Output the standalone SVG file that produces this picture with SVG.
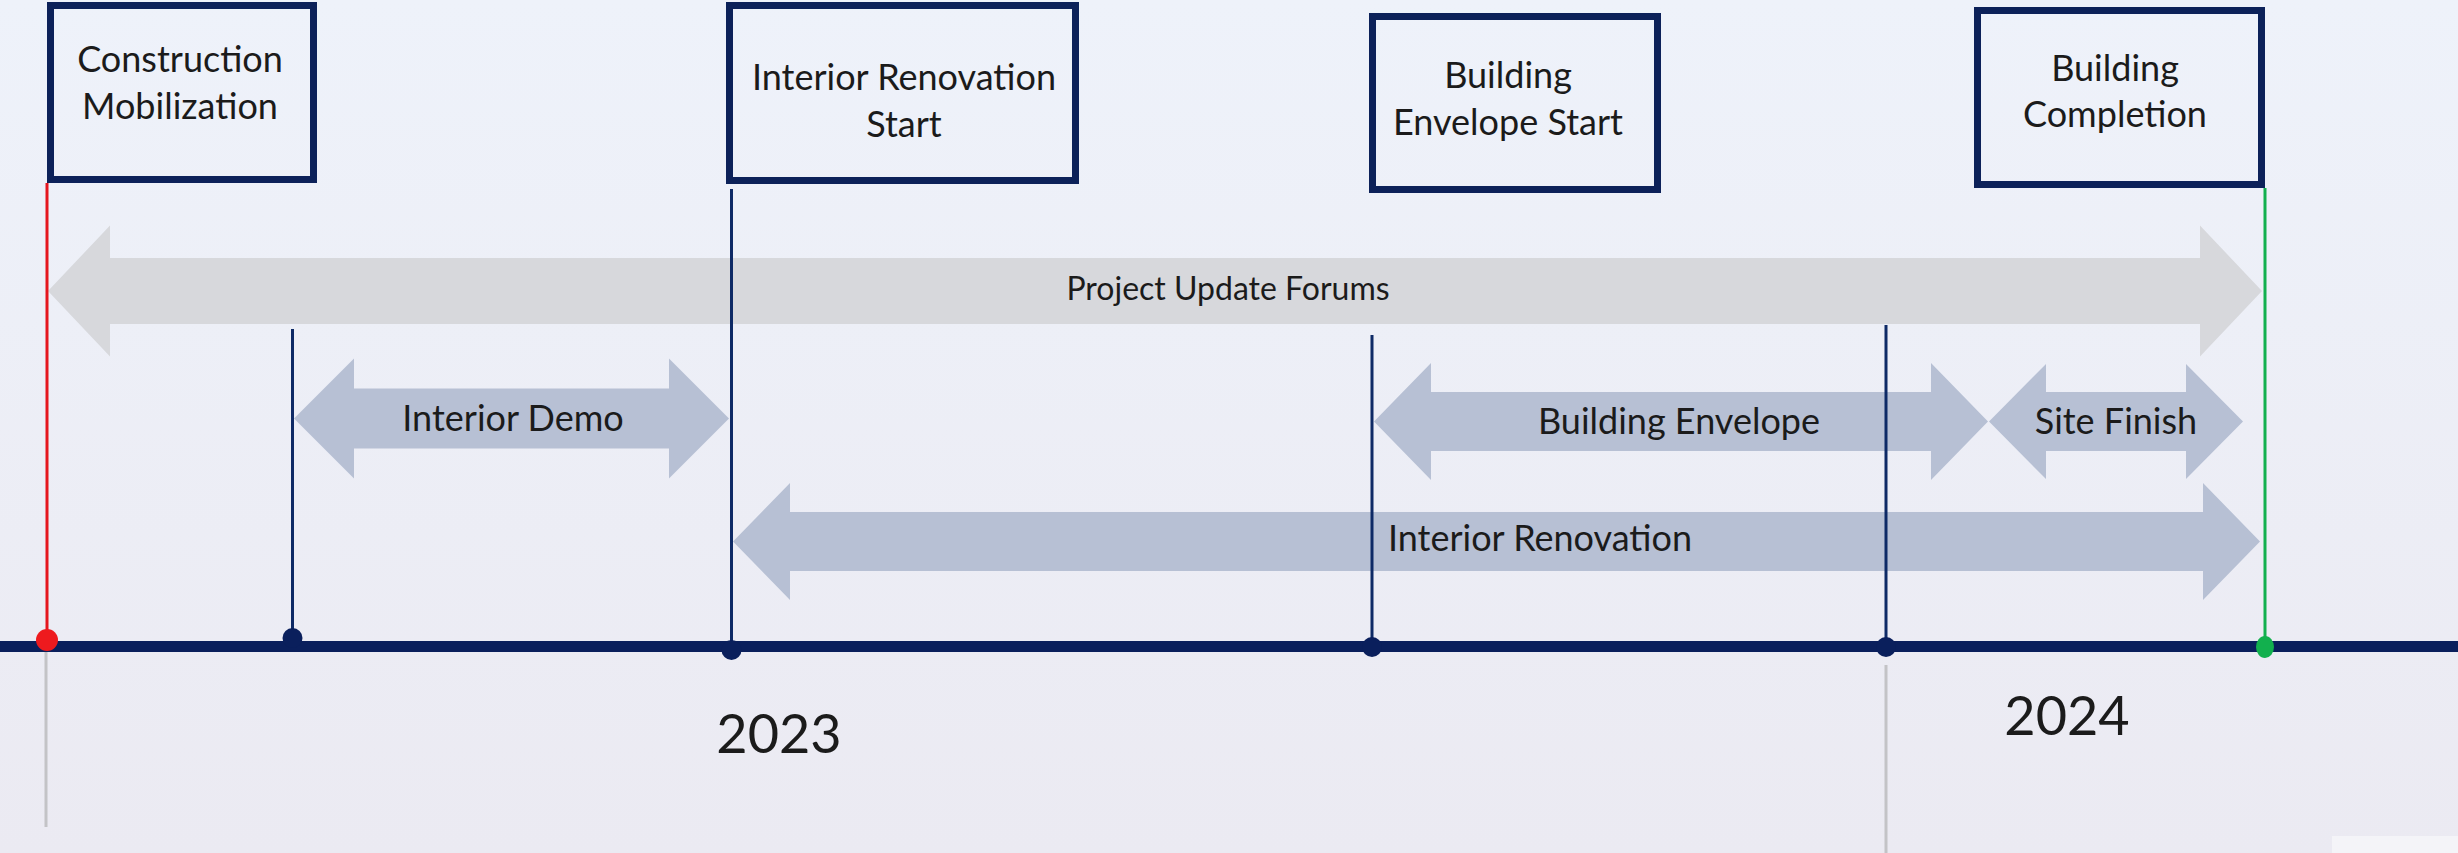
<svg xmlns="http://www.w3.org/2000/svg" width="2458" height="853" viewBox="0 0 2458 853">
<defs>
<linearGradient id="bg" x1="0" y1="0" x2="0" y2="1">
<stop offset="0" stop-color="#eef2fa"/>
<stop offset="1" stop-color="#ebeaf2"/>
</linearGradient>
</defs>
<style>
.box{fill:none;stroke:#0c2159;stroke-width:7}
.lbl{font-family:Lato,"Liberation Sans",sans-serif;fill:#1b1b1b;text-anchor:middle}
.bt{font-size:36px}
.at{font-size:36px}
.pt{font-size:32px}
.yr{font-size:54px}
.gray{fill:#d7d8dc}
.blue{fill:#b7c0d4}
.vl{stroke:#0e2a66;stroke-width:3;fill:none}
.gl{stroke:#c3c3c6;stroke-width:3;fill:none}
.dot{fill:#0a1f5c}
</style>
<rect x="0" y="0" width="2458" height="853" fill="url(#bg)"/>
<rect x="2332" y="836" width="126" height="17" fill="#f4f4f8"/>

<g id="phase-project-update-forums">
<path class="gray" d="M48,291 L110,225.5 L110,258 L2200,258 L2200,225.5 L2262,291 L2200,356.5 L2200,324 L110,324 L110,356.5 Z"/>
<text class="lbl pt" x="1228" y="300">Project Update Forums</text>
</g>
<g id="phase-interior-demo">
<path class="blue" d="M294,418.5 L354,358.5 L354,388.5 L669,388.5 L669,358.5 L729,418.5 L669,478.5 L669,448.5 L354,448.5 L354,478.5 Z"/>
<text class="lbl at" x="513" y="431">Interior Demo</text>
</g>
<g id="phase-building-envelope">
<path class="blue" d="M1374,421.5 L1431,363 L1431,392 L1931,392 L1931,363 L1988,421.5 L1931,480 L1931,451 L1431,451 L1431,480 Z"/>
<text class="lbl at" x="1679" y="434">Building Envelope</text>
</g>
<g id="phase-site-finish">
<path class="blue" d="M1989,421.5 L2046,364 L2046,392 L2186,392 L2186,364 L2243,421.5 L2186,479 L2186,451 L2046,451 L2046,479 Z"/>
<text class="lbl at" x="2116" y="434">Site Finish</text>
</g>
<g id="phase-interior-renovation">
<path class="blue" d="M733,541.5 L790,483 L790,512 L2203,512 L2203,483 L2260,541.5 L2203,600 L2203,571 L790,571 L790,600 Z"/>
<text class="lbl at" x="1540" y="551">Interior Renovation</text>
</g>

<g id="connectors">
<line x1="47" y1="183" x2="47" y2="640" stroke="#e5161e" stroke-width="3"/>
<line class="vl" x1="292.5" y1="329" x2="292.5" y2="640"/>
<line class="vl" x1="731.5" y1="189" x2="731.5" y2="648"/>
<line class="vl" x1="1372" y1="335" x2="1372" y2="646"/>
<line class="vl" x1="1886" y1="325" x2="1886" y2="646"/>
<line x1="2265" y1="188" x2="2265" y2="646" stroke="#12b04e" stroke-width="3"/>
<line class="gl" x1="46" y1="652" x2="46" y2="827"/>
<line class="gl" x1="1886" y1="665" x2="1886" y2="853"/>
</g>

<g id="timeline-axis">
<rect x="0" y="641" width="2458" height="11" fill="#0a1f5c"/>
<circle cx="47" cy="640" r="11" fill="#ee1a1e"/>
<circle class="dot" cx="292.5" cy="638" r="10"/>
<circle class="dot" cx="731.5" cy="650" r="10"/>
<circle class="dot" cx="1372" cy="647" r="10"/>
<circle class="dot" cx="1886" cy="647" r="10"/>
<ellipse cx="2265" cy="647" rx="9" ry="11" fill="#12b04e"/>
<text class="lbl yr" x="779" y="753">2023</text>
<text class="lbl yr" x="2067" y="735">2024</text>
</g>

<g id="milestone-construction-mobilization">
<rect class="box" x="50.5" y="5.5" width="263" height="174"/>
<text class="lbl bt" x="180" y="72">Construction</text>
<text class="lbl bt" x="180" y="119">Mobilization</text>
</g>
<g id="milestone-interior-renovation-start">
<rect class="box" x="729.5" y="5.5" width="346" height="175"/>
<text class="lbl bt" x="904" y="90">Interior Renovation</text>
<text class="lbl bt" x="904" y="137">Start</text>
</g>
<g id="milestone-building-envelope-start">
<rect class="box" x="1372.5" y="16.5" width="285" height="173"/>
<text class="lbl bt" x="1508" y="88">Building</text>
<text class="lbl bt" x="1508" y="135">Envelope Start</text>
</g>
<g id="milestone-building-completion">
<rect class="box" x="1977.5" y="10.5" width="284" height="174"/>
<text class="lbl bt" x="2115" y="81">Building</text>
<text class="lbl bt" x="2115" y="127">Completion</text>
</g>
</svg>
